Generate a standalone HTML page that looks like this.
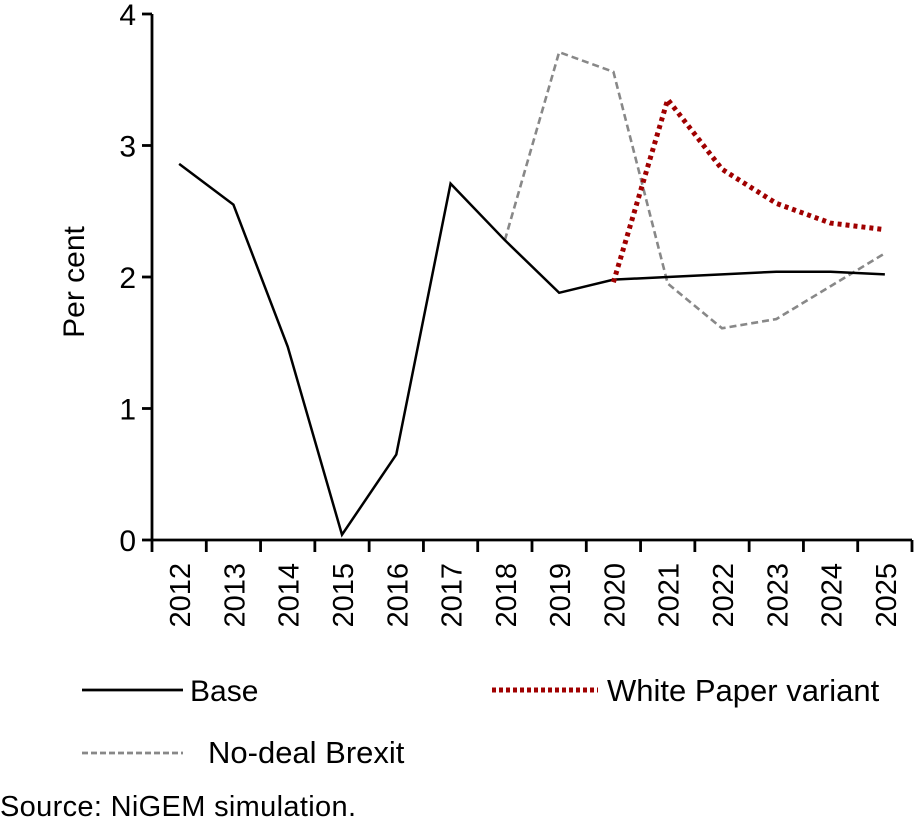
<!DOCTYPE html>
<html><head><meta charset="utf-8"><style>
body{margin:0;background:#fff;}
svg text{font-family:"Liberation Sans",sans-serif;fill:#000;}
</style></head><body>
<svg width="916" height="819" viewBox="0 0 916 819" xmlns="http://www.w3.org/2000/svg">
<g id="plot"></g>
<g>
<g><line x1="82" y1="690" x2="183" y2="690" stroke="#000" stroke-width="2.8"/><text x="190" y="701" font-size="30">Base</text></g>
<g><line x1="492" y1="690" x2="598" y2="690" stroke="#a00000" stroke-width="5" stroke-dasharray="4,3"/><text x="607" y="701" font-size="31">White Paper variant</text></g>
<g><line x1="82" y1="753" x2="183" y2="753" stroke="#888" stroke-width="2.8" stroke-dasharray="6,3"/><text x="208" y="763" font-size="31">No-deal Brexit</text></g>
</g>
<text x="0" y="816" font-size="29" textLength="356">Source: NiGEM simulation.</text>
</svg>
<script>
const categories=["2012","2013","2014","2015","2016","2017","2018","2019","2020","2021","2022","2023","2024","2025"];
const baseValues=[2.86,2.55,1.47,0.04,0.65,2.71,2.28,1.88,1.98,2.0,2.02,2.04,2.04,2.02];
const noDealValues=[null,null,null,null,null,null,2.28,3.71,3.56,1.95,1.61,1.68,1.93,2.18];
const whitePaperValues=[null,null,null,null,null,null,null,null,1.96,3.35,2.82,2.56,2.41,2.36];
const yTicks=[0,1,2,3,4];
const NS="http://www.w3.org/2000/svg";
const g=document.getElementById('plot');
const x0=152,x1=912,y0=540,y1=14;
const bw=(x1-x0)/categories.length;
const X=i=>x0+bw*(i+0.5);
const Y=v=>y0-(v/4)*(y0-y1);
function mk(t,a){const e=document.createElementNS(NS,t);for(const k in a)e.setAttribute(k,a[k]);g.appendChild(e);return e;}
let e=mk('line',{x1:x0,y1:y0,x2:x1,y2:y0,stroke:'#000','stroke-width':2.8});


e=mk('line',{x1:x0,y1:y1,x2:x0,y2:y0,stroke:'#000','stroke-width':2.8});


yTicks.forEach(v=>{
 let t=mk('line',{x1:x0-10,y1:Y(v),x2:x0,y2:Y(v),stroke:'#000','stroke-width':2.8});
 
 
 let l=mk('text',{x:x0-16,y:Y(v)+11,'font-size':30,'text-anchor':'end'});l.textContent=v;
 
 
});
for(let i=0;i<=categories.length;i++){
 let t=mk('line',{x1:x0+bw*i,y1:y0,x2:x0+bw*i,y2:y0+12,stroke:'#000','stroke-width':2.8});
 
 
}
categories.forEach((c,i)=>{
 let l=mk('text',{x:0,y:0,'font-size':29,'text-anchor':'end',transform:`translate(${X(i)+11},563) rotate(-90)`});l.textContent=c;
 
 
});
let yt=mk('text',{x:0,y:0,'font-size':30,'text-anchor':'middle',transform:'translate(84,282) rotate(-90)'});yt.textContent='Per cent';


function series(vals,attrs,name){
 const pts=vals.map((v,i)=>v==null?null:X(i)+','+Y(v)).filter(p=>p);
 const p=mk('polyline',Object.assign({points:pts.join(' '),fill:'none'},attrs));
 
 
}
series(noDealValues,{stroke:'#888','stroke-width':2.6,'stroke-dasharray':'7,4'},'no-deal-line');
series(baseValues,{stroke:'#000','stroke-width':2.5},'base-line');
series(whitePaperValues,{stroke:'#a00000','stroke-width':5,'stroke-dasharray':'4,4'},'white-paper-line');
</script>
</body></html>
